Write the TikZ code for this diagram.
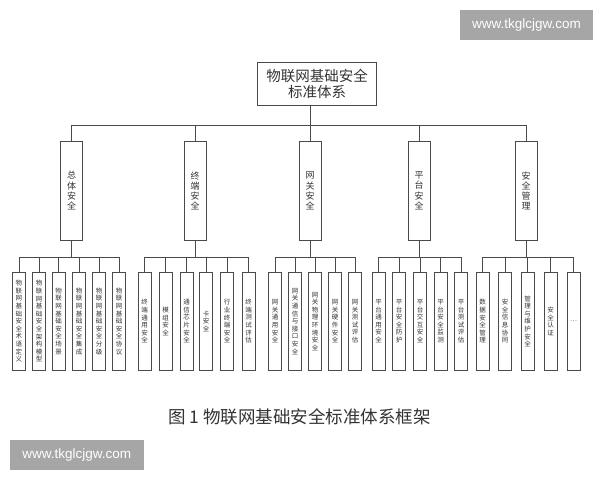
\documentclass[tikz,border=0pt]{standalone}
\usepackage{fontspec}
\newfontfamily\cjk{Noto Sans CJK SC}
\newfontfamily\wmfont{Liberation Sans}
\ExplSyntaxOn
\NewDocumentCommand\vtxt{m}{
  \tl_set:Ne \l_tmpa_tl {#1}
  \vbox{\tl_map_inline:Nn \l_tmpa_tl {\hbox_to_wd:nn{1em}{\hss##1\hss}}}
}
\ExplSyntaxOff
\definecolor{linec}{HTML}{4A4A4A}
\definecolor{txtc}{HTML}{333333}
\definecolor{wmgray}{HTML}{A6A6A6}
\begin{document}
\begin{tikzpicture}[x=1pt,y=-1pt,
  conn/.style={draw=linec, line width=0.9pt},
  rootbox/.style={draw=linec, line width=0.9pt, minimum width=119.5pt, minimum height=43.5pt, inner sep=0pt, font=\cjk\fontsize{14.5}{16}\selectfont, text=txtc, align=center},
  midbox/.style={draw=linec, line width=0.9pt, minimum width=22pt, minimum height=98.3pt, inner sep=0pt, font=\cjk\fontsize{9}{10.3}\selectfont, text=txtc},
  leafbox/.style={draw=linec, line width=0.8pt, minimum width=13pt, minimum height=98.5pt, inner sep=0pt, font=\cjk\fontsize{6.5}{7.6}\selectfont, text=txtc},
  wmbox/.style={fill=wmgray, minimum width=133.5pt, minimum height=29.5pt, inner sep=0pt, text=white, font=\wmfont\fontsize{13.5}{15}\selectfont},
  captionstyle/.style={font=\cjk\fontsize{17.5}{20}\selectfont, text=txtc, inner sep=0pt}]
\useasboundingbox[fill=white] (0,0) rectangle (600,480);

% watermarks
\node[wmbox] (wm1) at (526.5,25) {www.tkglcjgw.com};
\node[wmbox] (wm2) at (76.75,455) {www.tkglcjgw.com};

% root
\node[rootbox] (root) at (317,84) {物联网基础安全\\标准体系};
\coordinate (bus) at (310,125);

% second level
\node[midbox] (m1) at (71.7,190.9) {\vtxt{总体安全}};
\node[midbox] (m2) at (195,190.9) {\vtxt{终端安全}};
\node[midbox] (m3) at (310,190.9) {\vtxt{网关安全}};
\node[midbox] (m4) at (419,190.9) {\vtxt{平台安全}};
\node[midbox] (m5) at (526,190.9) {\vtxt{安全管理}};

\draw[conn] (root.south -| bus) -- (bus);
\draw[conn] (m1.north) |- (m5.north |- bus) -- (m5.north);
\foreach \m in {m2,m3,m4} {\draw[conn] (\m.north) -- (\m.north |- bus);}

% group bus coordinates
\coordinate (g1) at (71.7,257);
\coordinate (g2) at (195,257);
\coordinate (g3) at (310,257);
\coordinate (g4) at (419,257);
\coordinate (g5) at (526,257);
\foreach \i in {1,...,5} {\draw[conn] (m\i.south) -- (g\i);}

% group 1
\foreach \x/\s [count=\j] in {19/物联网基础安全术语定义, 39/物联网基础安全架构模型, 58.5/物联网基础安全场景, 79/物联网基础安全集成, 99/物联网基础安全分级, 119/物联网基础安全协议}
  {\node[leafbox] (a\j) at (\x,321.25) {\vtxt{\s}};
   \draw[conn] (a\j.north) -- (a\j.north |- g1);}
\draw[conn] (a1.north |- g1) -- (a6.north |- g1);

% group 2
\foreach \x/\s [count=\j] in {144.5/终端通用安全, 165.5/模组安全, 186.5/通信芯片安全, 206/卡安全, 227/行业终端安全, 248.5/终端测试评估}
  {\node[leafbox] (b\j) at (\x,321.25) {\vtxt{\s}};
   \draw[conn] (b\j.north) -- (b\j.north |- g2);}
\draw[conn] (b1.north |- g2) -- (b6.north |- g2);

% group 3
\foreach \x/\s [count=\j] in {275/网关通用安全, 295/网关通信与接口安全, 315/网关物理环境安全, 335/网关硬件安全, 355/网关测试评估}
  {\node[leafbox] (c\j) at (\x,321.25) {\vtxt{\s}};
   \draw[conn] (c\j.north) -- (c\j.north |- g3);}
\draw[conn] (c1.north |- g3) -- (c5.north |- g3);

% group 4
\foreach \x/\s [count=\j] in {378.5/平台通用安全, 399/平台安全防护, 420/平台交互安全, 440.5/平台安全监测, 461/平台测试评估}
  {\node[leafbox] (d\j) at (\x,321.25) {\vtxt{\s}};
   \draw[conn] (d\j.north) -- (d\j.north |- g4);}
\draw[conn] (d1.north |- g4) -- (d5.north |- g4);

% group 5
\foreach \x/\s [count=\j] in {482.5/数据安全管理, 505/安全信息协同, 527.5/管理与维护安全, 550.5/安全认证}
  {\node[leafbox] (e\j) at (\x,321.25) {\vtxt{\s}};
   \draw[conn] (e\j.north) -- (e\j.north |- g5);}
\node[leafbox] (e5) at (573.5,321.25) {…};
\draw[conn] (e5.north) -- (e5.north |- g5);
\draw[conn] (e1.north |- g5) -- (e5.north |- g5);

% caption
\node[captionstyle] (cap) at (299.5,416.7) {图 1 物联网基础安全标准体系框架};
\end{tikzpicture}
\end{document}
